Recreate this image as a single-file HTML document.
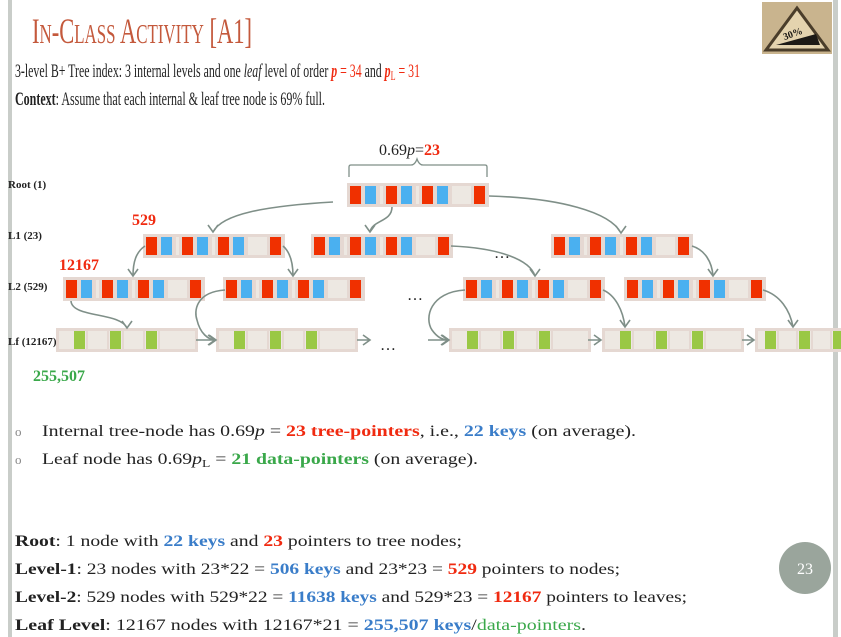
<!DOCTYPE html>
<html><head><meta charset="utf-8"><style>
html,body{margin:0;padding:0;background:#fff;}
svg{display:block;font-family:"Liberation Serif",serif;}
</style></head><body>
<svg id="s" width="841" height="637" viewBox="0 0 841 637" xmlns="http://www.w3.org/2000/svg">
<rect x="8" y="0" width="4" height="637" fill="#c9cdc9"/>
<rect x="833" y="0" width="5" height="637" fill="#c9cdc9"/>
<g>
<rect x="762" y="2" width="70" height="52" fill="#c9b48e"/>
<polygon points="797,8 828,50 766,50" fill="#e4d3ae" stroke="#4a3d2a" stroke-width="3"/>
<polygon points="776,45 820,45 816,34" fill="#1d1a16"/>
<text x="783" y="38" font-size="10" font-weight="bold" fill="#1d1a16" transform="rotate(-20 790 35)">30%</text>
</g>
<text x="32" y="43" fill="#c4593c" font-size="36" textLength="220" lengthAdjust="spacingAndGlyphs">I<tspan font-size="27">N</tspan>-C<tspan font-size="27">LASS</tspan> A<tspan font-size="27">CTIVITY</tspan> [A1]</text>
<text x="15" y="77" font-size="19" fill="#222" textLength="405" lengthAdjust="spacingAndGlyphs">3-level B+ Tree index: 3 internal levels and one <tspan font-style="italic">leaf</tspan> level of order <tspan fill="#f02a10" font-weight="bold" font-style="italic">p</tspan><tspan fill="#f02a10"> = 34</tspan> and <tspan fill="#f02a10" font-weight="bold" font-style="italic">p</tspan><tspan fill="#f02a10" font-size="13" dy="3">L</tspan><tspan fill="#f02a10" dy="-3"> = 31</tspan></text>
<text x="15" y="105" font-size="19" fill="#222" textLength="310" lengthAdjust="spacingAndGlyphs"><tspan font-weight="bold">Context</tspan>: Assume that each internal &amp; leaf tree node is 69% full.</text>

<g font-size="11" font-weight="bold" fill="#222">
<text x="8" y="188">Root (1)</text><text x="8" y="239">L1 (23)</text><text x="8" y="290">L2 (529)</text><text x="8" y="345">Lf (12167)</text>
</g>
<text x="132" y="225" font-size="16" font-weight="bold" fill="#f02a10">529</text>
<text x="59" y="270" font-size="16" font-weight="bold" fill="#f02a10">12167</text>
<text x="33" y="381" font-size="16" font-weight="bold" fill="#3aa84a">255,507</text>
<text x="379" y="155" font-size="16" fill="#222">0.69<tspan font-style="italic">p</tspan>=<tspan fill="#f02a10" font-weight="bold">23</tspan></text>
<path d="M349,177 v-10 q0,-2 2,-2 h60 q4,0 6,-6 q2,6 6,6 h62 q2,0 2,2 v10" fill="none" stroke="#7f8f88" stroke-width="1.3"/>
<g id="nodes"></g>
<g id="arrows" fill="none" stroke="#7f8f88" stroke-width="1.6"></g>
<g font-size="16" fill="#222">
<text x="494" y="258">…</text><text x="407" y="300">…</text><text x="380" y="350">…</text></g>

<g font-size="16" fill="#222">
<text x="15" y="436" font-size="13" fill="#888">o</text>
<text x="42" y="436" textLength="594" lengthAdjust="spacingAndGlyphs">Internal tree-node has 0.69<tspan font-style="italic">p</tspan> = <tspan fill="#f02a10" font-weight="bold">23 tree-pointers</tspan>, i.e., <tspan fill="#3a7dc9" font-weight="bold">22 keys</tspan> (on average).</text>
<text x="15" y="464" font-size="13" fill="#888">o</text>
<text x="42" y="464" textLength="436" lengthAdjust="spacingAndGlyphs">Leaf node has 0.69<tspan font-style="italic">p</tspan><tspan font-size="11" dy="3">L</tspan><tspan dy="-3"> = </tspan> <tspan fill="#3aa84a" font-weight="bold">21 data-pointers</tspan> (on average).</text>
<text x="15" y="546" textLength="447" lengthAdjust="spacingAndGlyphs"><tspan font-weight="bold">Root</tspan>: 1 node with <tspan fill="#3a7dc9" font-weight="bold">22 keys</tspan> and <tspan fill="#f02a10" font-weight="bold">23</tspan> pointers to tree nodes;</text>
<text x="15" y="574" textLength="605" lengthAdjust="spacingAndGlyphs"><tspan font-weight="bold">Level-1</tspan>: 23 nodes with 23*22 = <tspan fill="#3a7dc9" font-weight="bold">506 keys</tspan> and 23*23 = <tspan fill="#f02a10" font-weight="bold">529</tspan> pointers to nodes;</text>
<text x="15" y="602" textLength="672" lengthAdjust="spacingAndGlyphs"><tspan font-weight="bold">Level-2</tspan>: 529 nodes with 529*22 = <tspan fill="#3a7dc9" font-weight="bold">11638 keys</tspan> and 529*23 = <tspan fill="#f02a10" font-weight="bold">12167</tspan> pointers to leaves;</text>
<text x="15" y="630" textLength="571" lengthAdjust="spacingAndGlyphs"><tspan font-weight="bold">Leaf Level</tspan>: 12167 nodes with 12167*21 = <tspan fill="#3a7dc9" font-weight="bold">255,507 keys</tspan>/<tspan fill="#3aa84a">data-pointers</tspan>.</text>
</g>
<circle cx="805" cy="568" r="26" fill="#9aa59c"/>
<text x="805" y="574" font-size="16" fill="#fff" text-anchor="middle">23</text>
</svg>
<script>
const internalX = [[347,183],[143,234],[311,234],[551,234],[63,277],[223,277],[463,277],[624,277]];
const leafX = [56,216,449,602,755];
const leafY = 328;
const NS='http://www.w3.org/2000/svg';
const nodes=document.getElementById('nodes');
function r(g,x,y,w,h,f){const e=document.createElementNS(NS,'rect');e.setAttribute('x',x);e.setAttribute('y',y);e.setAttribute('width',w);e.setAttribute('height',h);e.setAttribute('fill',f);g.appendChild(e);}
const RED='#f03000',BLUE='#4ab0f0',LIGHT='#ede8e2',GREEN='#9ac845',BG='#e5d8d2';
internalX.forEach(p=>{
  const g=document.createElementNS(NS,'g');
  
  
  const x=p[0],y=p[1];
  r(g,x,y,142,24,BG);
  [0,36,72].forEach(o=>{r(g,x+3+o,y+3,11,18,RED);r(g,x+18+o,y+3,11,18,BLUE);if(o<72)r(g,x+33+o,y+3,3,18,LIGHT);});
  r(g,x+105,y+3,19,18,LIGHT);r(g,x+127,y+3,11,18,RED);
  nodes.appendChild(g);
});
leafX.forEach((x,i)=>{
  const g=document.createElementNS(NS,'g');
  
  
  const y=leafY;
  r(g,x,y,142,24,BG);
  r(g,x+3,y+3,136,18,LIGHT);
  const off=i===4?[10,44,78]:[18,54,90];
  off.forEach(o=>r(g,x+o,y+3,11,18,GREEN));
  for(let k=1;k<3;k++)r(g,x+off[k]-3,y+3,2,18,BG);
  r(g,x+off[0]+12,y+3,2,18,BG);r(g,x+off[1]+12,y+3,2,18,BG);r(g,x+off[2]+12,y+3,2,18,BG);
  nodes.appendChild(g);
});
const arrows=[
 ['M333,202 C265,206 222,214 213,232',213,232,'d'],
 ['M392,207 C392,222 372,220 370,232',370,232,'d'],
 ['M489,196 C560,198 610,212 621,233',621,233,'d'],
 ['M145,246 C136,252 133,262 133,276',133,276,'d'],
 ['M283,246 C290,252 293,262 293,276',293,276,'d'],
 ['M451,246 C500,248 530,260 535,276',535,276,'d'],
 ['M692,246 C705,250 712,262 713,276',713,276,'d'],
 ['M71,301 C72,318 120,312 127,328',127,328,'d'],
 ['M225,290 C195,292 194,312 197,320 C200,333 208,340 216,340',216,340,'r'],
 ['M465,290 C430,292 424,318 432,330 C437,337 442,340 449,340',449,340,'r'],
 ['M603,290 C615,295 623,310 625,327',625,327,'d'],
 ['M763,290 C780,295 790,310 793,327',793,327,'d'],
 ['M196,340 L215,340',215,340,'r'],
 ['M357,340 L370,340',370,340,'r'],
 ['M428,340 L448,340',448,340,'r'],
 ['M588,340 L601,340',601,340,'r'],
 ['M742,340 L754,340',754,340,'r']
];
const ag=document.getElementById('arrows');
arrows.forEach(a=>{
  const p=document.createElementNS(NS,'path');
  p.setAttribute('d',a[0]+(a[3]==='d'?` M${a[1]-5},${a[2]-7} L${a[1]},${a[2]} L${a[1]+5},${a[2]-7}`:` M${a[1]-7},${a[2]-5} L${a[1]},${a[2]} L${a[1]-7},${a[2]+5}`));
  
  
  ag.appendChild(p);
});
</script>
</body></html>
